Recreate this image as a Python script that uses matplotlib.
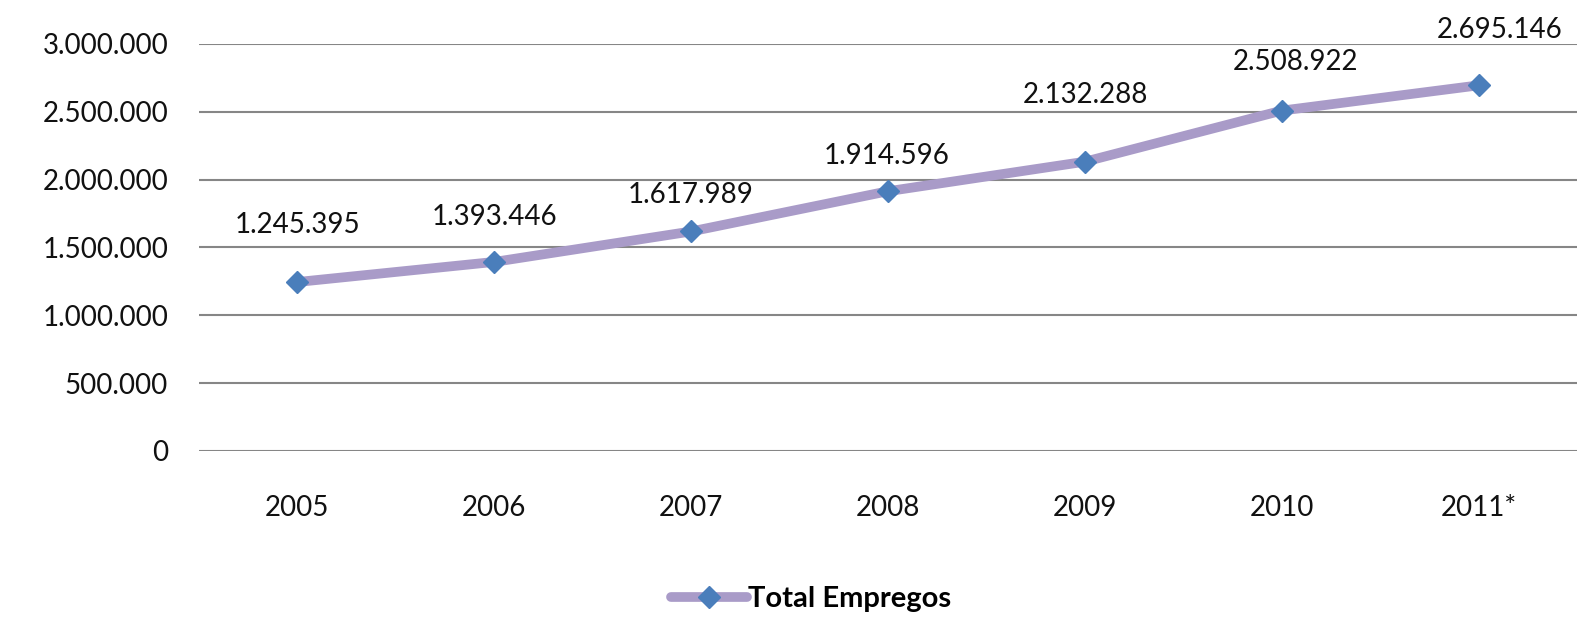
import matplotlib.pyplot as plt
from matplotlib.ticker import FuncFormatter

years = ["2005", "2006", "2007", "2008", "2009", "2010", "2011*"]
empregos = [1245395, 1393446, 1617989, 1914596, 2132288, 2508922, 2695146]
series_name = "Total Empregos"

# manual label placement (points), as in the original Excel chart
label_dx = [0, 0, 0, -1, 0, 10, 15]
label_dy = [41, 32, 26, 25, 48, 35, 40]

plt.rcParams['font.family'] = ['Lato', 'DejaVu Sans']


def fmt_pt(v, pos=None):
    return f"{int(v):,}".replace(",", ".")


fig = plt.figure(figsize=(15.9, 6.2), dpi=100)
ax = fig.add_axes([0.125, 0.2726, 0.867, 0.6565])

x = range(len(years))
ax.plot(x, empregos, color='#a99bc8', lw=7, marker='D', ms=11,
        mfc='#4a7ebb', mec='#4a7ebb', label=series_name, solid_capstyle='round')

for xi, v, dx, dy in zip(x, empregos, label_dx, label_dy):
    ax.annotate(fmt_pt(v), (xi, v), xytext=(dx, dy), textcoords='offset points',
                ha='center', va='center', fontsize=20, color='#111111')

ax.set_ylim(0, 3000000)
ax.set_yticks(range(0, 3000001, 500000))
ax.yaxis.set_major_formatter(FuncFormatter(fmt_pt))
ax.set_xlim(-0.5, len(years) - 0.5)
ax.set_xticks(list(x))
ax.set_xticklabels(years)
ax.grid(axis='y', color='#868686', lw=1.5)
ax.set_axisbelow(True)
for s in ax.spines.values():
    s.set_visible(False)
ax.tick_params(length=0, labelsize=20, labelcolor='#111111')
ax.tick_params(axis='y', pad=22)
ax.tick_params(axis='x', pad=32)

leg = fig.legend(loc='lower center', bbox_to_anchor=(0.51, -0.03), frameon=False,
                 fontsize=21, handlelength=2.6, handletextpad=0.05)
for t in leg.get_texts():
    t.set_fontweight('bold')

fig.savefig("out.png", dpi=100)
